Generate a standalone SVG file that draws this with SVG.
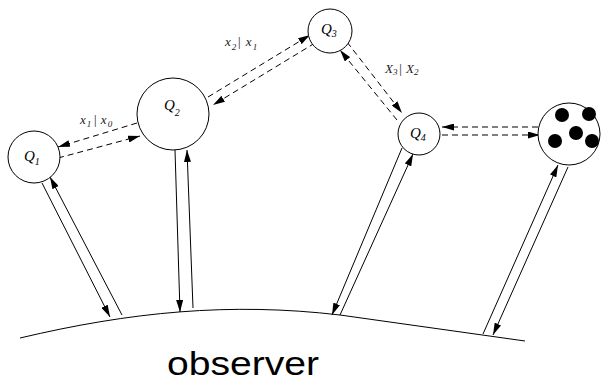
<svg xmlns="http://www.w3.org/2000/svg" width="607" height="381" viewBox="0 0 607 381">
  <style>
    .node { fill: #fff; stroke: #000; stroke-width: 1; }
    .dot { fill: #000; }
    .link { fill: none; stroke: #000; stroke-width: 1; }
    .dash { fill: none; stroke: #000; stroke-width: 1; stroke-dasharray: 6 4; }
    .q { font-family: "Liberation Serif", serif; font-style: italic; font-size: 15px; fill: #000; }
    .qs { font-family: "Liberation Serif", serif; font-style: italic; font-size: 10px; fill: #000; }
    .lbl { font-family: "Liberation Serif", serif; font-style: italic; font-size: 13px; fill: #222; }
    .lbls { font-family: "Liberation Serif", serif; font-style: italic; font-size: 9px; fill: #222; }
    .obs { font-family: "Liberation Sans", Arial, sans-serif; font-size: 34px; fill: #000; }
  </style>
  <defs>
    <marker id="head" markerUnits="userSpaceOnUse" markerWidth="12" markerHeight="7" refX="12" refY="3.5" orient="auto">
      <path d="M0,0 L12,3.5 L0,7 z" fill="#000"/>
    </marker>
  </defs>

  <!-- observer surface -->
  <g id="observer">
    <path class="link" d="M20,338 C130,312 230,302 340,315 L525,341"/>
    <text class="obs" x="167" y="375" textLength="152" lengthAdjust="spacingAndGlyphs">observer</text>
  </g>

  <!-- connectors -->
  <g id="connectors">
    <!-- solid links to the observer -->
    <line class="link" x1="42" y1="183" x2="110" y2="317" marker-end="url(#head)"/>
    <line class="link" x1="122" y1="315" x2="50" y2="177" marker-end="url(#head)"/>
    <line class="link" x1="175" y1="150" x2="180" y2="312" marker-end="url(#head)"/>
    <line class="link" x1="193" y1="308" x2="187" y2="150" marker-end="url(#head)"/>
    <line class="link" x1="402" y1="148" x2="332" y2="315" marker-end="url(#head)"/>
    <line class="link" x1="340" y1="315" x2="413" y2="154" marker-end="url(#head)"/>
    <line class="link" x1="483" y1="334" x2="558" y2="165" marker-end="url(#head)"/>
    <line class="link" x1="568" y1="167" x2="493" y2="335" marker-end="url(#head)"/>

    <!-- dashed links between nodes -->
    <line class="dash" x1="137" y1="123" x2="58" y2="147" marker-end="url(#head)"/>
    <line class="dash" x1="58" y1="158" x2="140" y2="136" marker-end="url(#head)"/>
    <line class="dash" x1="208" y1="97" x2="310" y2="35" marker-end="url(#head)"/>
    <line class="dash" x1="315" y1="43" x2="213" y2="105" marker-end="url(#head)"/>
    <line class="dash" x1="347" y1="42" x2="402" y2="113" marker-end="url(#head)"/>
    <line class="dash" x1="397" y1="120" x2="340" y2="50" marker-end="url(#head)"/>
    <line class="dash" x1="538" y1="127" x2="442" y2="127" marker-end="url(#head)"/>
    <line class="dash" x1="442" y1="135" x2="540" y2="135" marker-end="url(#head)"/>

    <!-- link labels -->
    <text class="lbl" x="80" y="124">x<tspan class="lbls" dx="1" dy="3">1</tspan><tspan dx="2" dy="-3">|</tspan><tspan dx="4">x</tspan><tspan class="lbls" dx="1" dy="3">0</tspan></text>
    <text class="lbl" x="225" y="46">x<tspan class="lbls" dx="1" dy="4">2</tspan><tspan dx="1" dy="-4">|</tspan><tspan dx="5">x</tspan><tspan class="lbls" dx="1" dy="4">1</tspan></text>
    <text class="lbl" x="385" y="73">X<tspan class="lbls" dy="2">3</tspan><tspan dx="1" dy="-2">|</tspan><tspan dx="4">X</tspan><tspan class="lbls" dy="2">2</tspan></text>
  </g>

  <!-- nodes -->
  <g id="Q1">
    <circle class="node" cx="34" cy="157" r="26"/>
    <text class="q" x="24" y="161">Q<tspan class="qs" dy="4">1</tspan></text>
  </g>
  <g id="Q2">
    <circle class="node" cx="173" cy="114" r="36"/>
    <text class="q" x="164" y="110">Q<tspan class="qs" dy="6">2</tspan></text>
  </g>
  <g id="Q3">
    <circle class="node" cx="330" cy="31" r="22"/>
    <text class="q" x="321" y="34">Q<tspan class="qs" dy="3">3</tspan></text>
  </g>
  <g id="Q4">
    <circle class="node" cx="419" cy="134" r="21"/>
    <text class="q" x="410" y="138">Q<tspan class="qs" dy="3">4</tspan></text>
  </g>
  <g id="cluster">
    <circle class="node" cx="569" cy="134" r="31"/>
    <circle class="dot" cx="562" cy="115" r="7"/>
    <circle class="dot" cx="589" cy="114" r="7"/>
    <circle class="dot" cx="576" cy="133" r="7"/>
    <circle class="dot" cx="555" cy="141" r="7"/>
    <circle class="dot" cx="592" cy="141" r="7"/>
  </g>
</svg>
